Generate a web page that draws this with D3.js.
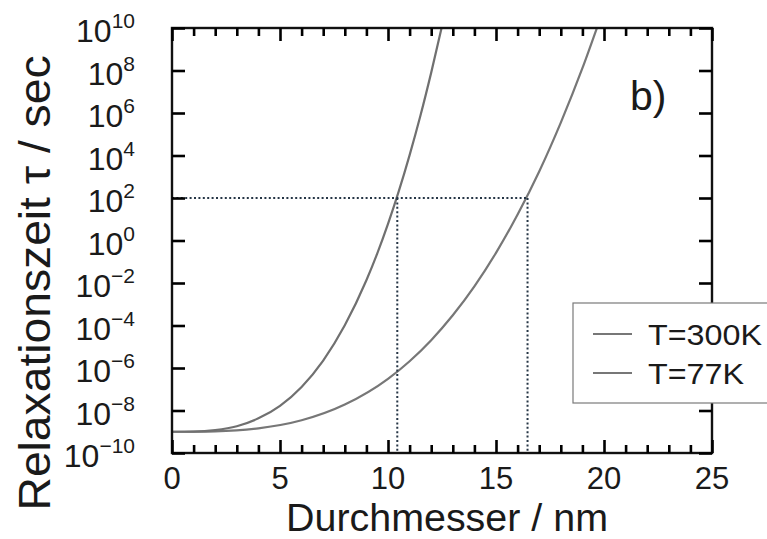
<!DOCTYPE html>
<html><head><meta charset="utf-8">
<script src="https://cdn.jsdelivr.net/npm/d3@7"></script>
<style>
html,body{margin:0;padding:0;background:#fff;}
text{font-family:"Liberation Sans",Arial,Helvetica,sans-serif;fill:#1a1a1a;}
</style></head>
<body><svg id="c" width="767" height="539"></svg>
<script>
// ---- data ----
const diam77 = [0,1,2,3,4,5,6,7,8,9,9.5,10,10.5,11,11.5,12,12.48];
const logTau77 = [-9,-8.99,-8.92,-8.74,-8.37,-7.78,-6.89,-5.65,-3.99,-1.87,-0.62,0.78,2.32,4.02,5.87,7.90,10.0];
const diam300 = [0,2,4,6,8,10,11,12,13,14,15,16,17,18,19,19.67];
const logTau300 = [-9,-8.98,-8.84,-8.46,-7.72,-6.51,-5.68,-4.69,-3.52,-2.16,-0.58,1.22,3.25,5.55,8.11,10.0];
const seriesNames = ["T=300K","T=77K"];
const xMajorTicks = [0,5,10,15,20,25];
const xMinorTicks = [1,2,3,4,6,7,8,9,11,12,13,14,16,17,18,19,21,22,23,24];
const yTickExps = [-10,-8,-6,-4,-2,0,2,4,6,8,10];
const markerLogTau = 2;
const markerDiam = [10.43, 16.46];

const svg = d3.select("#c");
const L=172, R=712, T=28, B=453;
const x = d3.scaleLinear().domain([0,25]).range([L,R]);
const y = d3.scaleLog().domain([1e-10,1e10]).range([B,T]);
const yVals = yTickExps.map(e=>Math.pow(10,e));

// curves
const line = d3.line().x(d=>x(d[0])).y(d=>y(Math.pow(10,d[1]))).curve(d3.curveMonotoneX);
const d77 = diam77.map((d,i)=>[d,logTau77[i]]);
const d300 = diam300.map((d,i)=>[d,logTau300[i]]);
svg.append("path").attr("d",line(d300)).attr("fill","none").attr("stroke","#777").attr("stroke-width",2.2);
svg.append("path").attr("d",line(d77)).attr("fill","none").attr("stroke","#707070").attr("stroke-width",2.2);

// dotted markers
function dl(x1,y1,x2,y2){
  svg.append("line").attr("x1",x1).attr("y1",y1).attr("x2",x2).attr("y2",y2)
    .attr("stroke","#263646").attr("stroke-width",2).attr("stroke-dasharray","2,2.4");
}
const ym = y(Math.pow(10,markerLogTau));
dl(L, ym, x(d3.max(markerDiam)), ym);
markerDiam.forEach(d=>dl(x(d), ym, x(d), B));

// frame
svg.append("rect").attr("x",L).attr("y",T).attr("width",R-L).attr("height",B-T).attr("fill","none").attr("stroke","#111").attr("stroke-width",2.4);

// axes with inward ticks (drawn last, on top)
function addAxis(axis, tr){
  const a = svg.append("g").attr("transform",tr).call(axis);
  a.select(".domain").remove();
  a.selectAll(".tick line").attr("stroke","#000").attr("stroke-width",2.6);
  a.selectAll(".tick text").remove();
}
addAxis(d3.axisBottom(x).tickValues(xMajorTicks).tickSizeInner(-13).tickSizeOuter(0), `translate(0,${B})`);
addAxis(d3.axisBottom(x).tickValues(xMinorTicks).tickSizeInner(-8).tickSizeOuter(0), `translate(0,${B})`);
addAxis(d3.axisTop(x).tickValues(xMajorTicks).tickSizeInner(-13).tickSizeOuter(0), `translate(0,${T})`);
addAxis(d3.axisTop(x).tickValues(xMinorTicks).tickSizeInner(-8).tickSizeOuter(0), `translate(0,${T})`);
addAxis(d3.axisLeft(y).tickValues(yVals).tickSizeInner(-13).tickSizeOuter(0), `translate(${L},0)`);
addAxis(d3.axisRight(y).tickValues(yVals).tickSizeInner(-13).tickSizeOuter(0), `translate(${R},0)`);

// x tick labels
svg.append("g").selectAll("text").data(xMajorTicks).join("text")
  .attr("x",d=>x(d)).attr("y",489).attr("text-anchor","middle").attr("font-size",31).text(d=>d);
// y tick labels
const yl = svg.append("g").selectAll("text").data(yTickExps).join("text")
  .attr("x",135).attr("y",e=>y(Math.pow(10,e))+14).attr("text-anchor","end").attr("font-size",32);
yl.append("tspan").text("10");
yl.append("tspan").attr("dy",-14).attr("font-size",21).text(e=>e<0?"\u2212"+(-e):String(e));

// axis titles
svg.append("text").attr("x",447).attr("y",531).attr("text-anchor","middle").attr("font-size",38)
  .attr("textLength",322).attr("lengthAdjust","spacingAndGlyphs").text("Durchmesser / nm");
svg.append("text").attr("transform","translate(50,283) rotate(-90)").attr("text-anchor","middle").attr("font-size",44)
  .attr("textLength",455).attr("lengthAdjust","spacingAndGlyphs").text("Relaxationszeit \u03c4 / sec");

// panel label
svg.append("text").attr("x",630).attr("y",110).attr("font-size",41).text("b)");

// legend
const lg = svg.append("g");
lg.append("rect").attr("x",573).attr("y",303).attr("width",220).attr("height",100).attr("fill","#fff").attr("stroke","#7a7a7a").attr("stroke-width",1.2);
const legW = [114, 96];
seriesNames.forEach((n,i)=>{
  const yy = 334 + i*39;
  lg.append("line").attr("x1",593).attr("x2",632).attr("y1",yy).attr("y2",yy).attr("stroke","#777").attr("stroke-width",2.2);
  lg.append("text").attr("x",648).attr("y",yy+11).attr("font-size",29)
    .attr("textLength",legW[i]).attr("lengthAdjust","spacingAndGlyphs").text(n);
});
</script></body></html>
